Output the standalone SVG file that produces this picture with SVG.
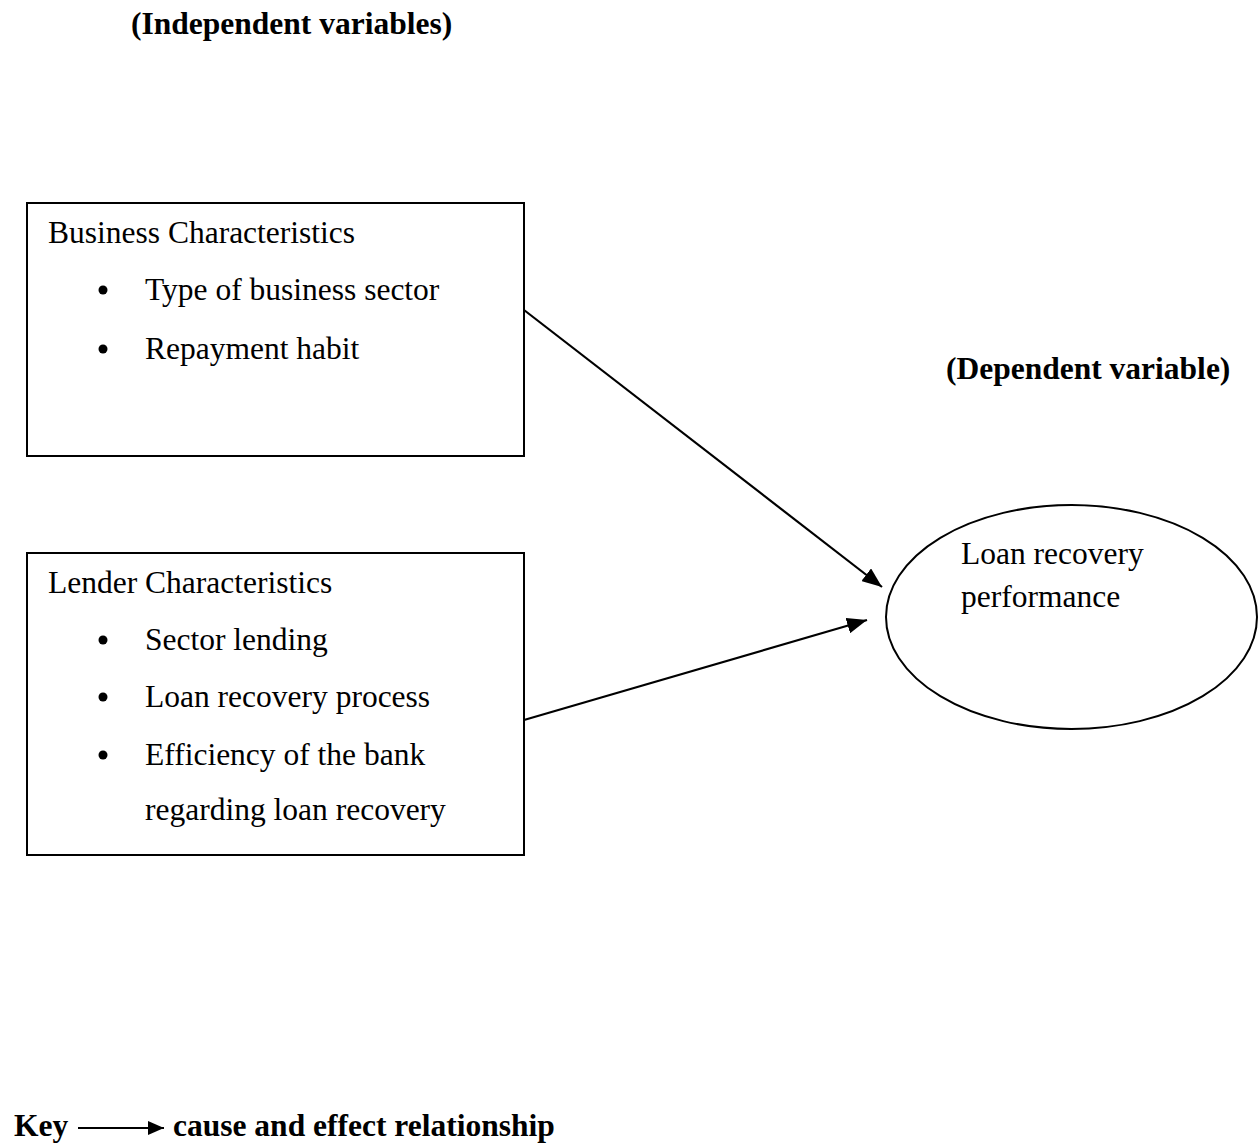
<svg xmlns="http://www.w3.org/2000/svg" width="1258" height="1145" viewBox="0 0 1258 1145">
<style>
.t{font-family:"Liberation Serif","Times New Roman",serif;font-size:31.5px;fill:#000}
.b{font-weight:bold}
.box{fill:#fff;stroke:#000;stroke-width:2}
.edge{stroke:#000;stroke-width:2.2;fill:none}
</style>
<defs>
<marker id="ah" markerUnits="userSpaceOnUse" markerWidth="22" markerHeight="16" refX="20" refY="8" orient="auto">
<path d="M0,0 L20,8 L0,16 Z" fill="#000"/>
</marker>
<marker id="ahk" markerUnits="userSpaceOnUse" markerWidth="18" markerHeight="14" refX="16" refY="7" orient="auto">
<path d="M0,0 L16,7 L0,14 Z" fill="#000"/>
</marker>
</defs>
<rect width="1258" height="1145" fill="#fff"/>
<text class="t b" x="131" y="34">(Independent variables)</text>
<text class="t b" x="946" y="379">(Dependent variable)</text>

<g id="business">
<rect class="box" x="27" y="203" width="497" height="253"/>
<text class="t" x="48" y="243">Business Characteristics</text>
<circle cx="103" cy="290" r="4.5"/>
<text class="t" x="145" y="300">Type of business sector</text>
<circle cx="103" cy="349" r="4.5"/>
<text class="t" x="145" y="359">Repayment habit</text>
</g>

<g id="lender">
<rect class="box" x="27" y="553" width="497" height="302"/>
<text class="t" x="48" y="593">Lender Characteristics</text>
<circle cx="103" cy="640" r="4.5"/>
<text class="t" x="145" y="650">Sector lending</text>
<circle cx="103" cy="697" r="4.5"/>
<text class="t" x="145" y="707">Loan recovery process</text>
<circle cx="103" cy="755" r="4.5"/>
<text class="t" x="145" y="765">Efficiency of the bank</text>
<text class="t" x="145" y="820">regarding loan recovery</text>
</g>

<g id="performance">
<ellipse cx="1071.5" cy="617" rx="185.5" ry="112" fill="#fff" stroke="#000" stroke-width="2"/>
<text class="t" x="961" y="564">Loan recovery</text>
<text class="t" x="961" y="607">performance</text>
</g>

<g id="connectors">
<line class="edge" x1="524" y1="310" x2="882" y2="587" marker-end="url(#ah)"/>
<line class="edge" x1="524" y1="720" x2="867" y2="620" marker-end="url(#ah)"/>
</g>

<g id="key">
<text class="t b" x="14" y="1136">Key</text>
<line class="edge" x1="78" y1="1128" x2="164" y2="1128" marker-end="url(#ahk)"/>
<text class="t b" x="173" y="1136">cause and effect relationship</text>
</g>
</svg>
